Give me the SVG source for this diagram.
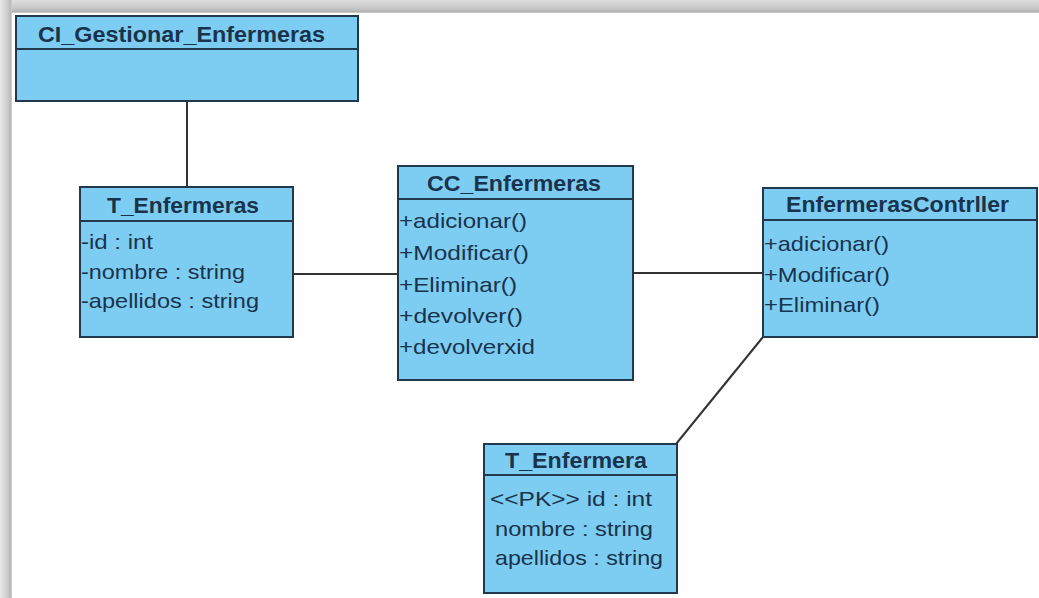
<svg xmlns="http://www.w3.org/2000/svg" width="1039" height="598" viewBox="0 0 1039 598">
  <defs>
    <linearGradient id="shadeTop" x1="0" y1="0" x2="0" y2="1">
      <stop offset="0" stop-color="#dedede"/>
      <stop offset="0.6" stop-color="#c9c9c9"/>
      <stop offset="0.9" stop-color="#b3b3b3"/>
      <stop offset="1" stop-color="#d2d2d2"/>
    </linearGradient>
    <linearGradient id="shadeLeft" x1="0" y1="0" x2="1" y2="0">
      <stop offset="0" stop-color="#e8e8e8"/>
      <stop offset="0.6" stop-color="#cdcdcd"/>
      <stop offset="0.9" stop-color="#b8b8b8"/>
      <stop offset="1" stop-color="#d6d6d6"/>
    </linearGradient>
    <style>
      .box { fill: #7ccdf1; stroke: #22394d; stroke-width: 2; }
      .sep { stroke: #22394d; stroke-width: 2; }
      .title { font-family: "Liberation Sans", Arial, sans-serif; font-size: 22px; font-weight: bold; fill: #1a334d; }
      .member { font-family: "Liberation Sans", Arial, sans-serif; font-size: 21px; fill: #1a334d; }
      .link { stroke: #333; stroke-width: 2; fill: none; }
    </style>
  </defs>

  <!-- page background with the frame shading along the top and left -->
  <rect x="0" y="0" width="1039" height="598" fill="#ffffff"/>
  <rect x="0" y="0" width="1039" height="13" fill="url(#shadeTop)"/>
  <rect x="0" y="0" width="12" height="598" fill="url(#shadeLeft)"/>

  <!-- associations -->
  <g id="connectors">
    <line class="link" x1="187" y1="101" x2="187" y2="187"/>
    <line class="link" x1="293" y1="274" x2="398" y2="274"/>
    <line class="link" x1="633" y1="273" x2="763" y2="273"/>
    <line class="link" x1="763" y1="337" x2="676" y2="444"/>
  </g>

  <g id="CI_Gestionar_Enfermeras">
    <rect class="box" x="16" y="16" width="342" height="85"/>
    <line class="sep" x1="16" y1="49" x2="358" y2="49"/>
    <text class="title" x="38" y="42" textLength="287" lengthAdjust="spacingAndGlyphs">CI_Gestionar_Enfermeras</text>
  </g>

  <g id="T_Enfermeras">
    <rect class="box" x="80" y="187" width="213" height="150"/>
    <line class="sep" x1="80" y1="221" x2="293" y2="221"/>
    <text class="title" x="107" y="213" textLength="152" lengthAdjust="spacingAndGlyphs">T_Enfermeras</text>
    <text class="member" x="81" y="249" textLength="72" lengthAdjust="spacingAndGlyphs">-id : int</text>
    <text class="member" x="81" y="279" textLength="164" lengthAdjust="spacingAndGlyphs">-nombre : string</text>
    <text class="member" x="81" y="308" textLength="178" lengthAdjust="spacingAndGlyphs">-apellidos : string</text>
  </g>

  <g id="CC_Enfermeras">
    <rect class="box" x="398" y="166" width="235" height="214"/>
    <line class="sep" x1="398" y1="199" x2="633" y2="199"/>
    <text class="title" x="427" y="191" textLength="174" lengthAdjust="spacingAndGlyphs">CC_Enfermeras</text>
    <text class="member" x="399" y="228" textLength="128" lengthAdjust="spacingAndGlyphs">+adicionar()</text>
    <text class="member" x="399" y="260" textLength="130" lengthAdjust="spacingAndGlyphs">+Modificar()</text>
    <text class="member" x="399" y="292" textLength="118" lengthAdjust="spacingAndGlyphs">+Eliminar()</text>
    <text class="member" x="399" y="323" textLength="124" lengthAdjust="spacingAndGlyphs">+devolver()</text>
    <text class="member" x="399" y="354" textLength="136" lengthAdjust="spacingAndGlyphs">+devolverxid</text>
  </g>

  <g id="EnfermerasContrller">
    <rect class="box" x="763" y="188" width="274" height="149"/>
    <line class="sep" x1="763" y1="220" x2="1037" y2="220"/>
    <text class="title" x="786" y="212" textLength="223" lengthAdjust="spacingAndGlyphs">EnfermerasContrller</text>
    <text class="member" x="764" y="251" textLength="125" lengthAdjust="spacingAndGlyphs">+adicionar()</text>
    <text class="member" x="764" y="282" textLength="126" lengthAdjust="spacingAndGlyphs">+Modificar()</text>
    <text class="member" x="764" y="312" textLength="116" lengthAdjust="spacingAndGlyphs">+Eliminar()</text>
  </g>

  <g id="T_Enfermera">
    <rect class="box" x="484" y="444" width="193" height="149"/>
    <line class="sep" x1="484" y1="475" x2="677" y2="475"/>
    <text class="title" x="505" y="468" textLength="142" lengthAdjust="spacingAndGlyphs">T_Enfermera</text>
    <text class="member" x="490" y="506" textLength="162" lengthAdjust="spacingAndGlyphs">&lt;&lt;PK&gt;&gt;  id : int</text>
    <text class="member" x="495" y="536" textLength="158" lengthAdjust="spacingAndGlyphs">nombre : string</text>
    <text class="member" x="495" y="565" textLength="168" lengthAdjust="spacingAndGlyphs">apellidos : string</text>
  </g>
</svg>
